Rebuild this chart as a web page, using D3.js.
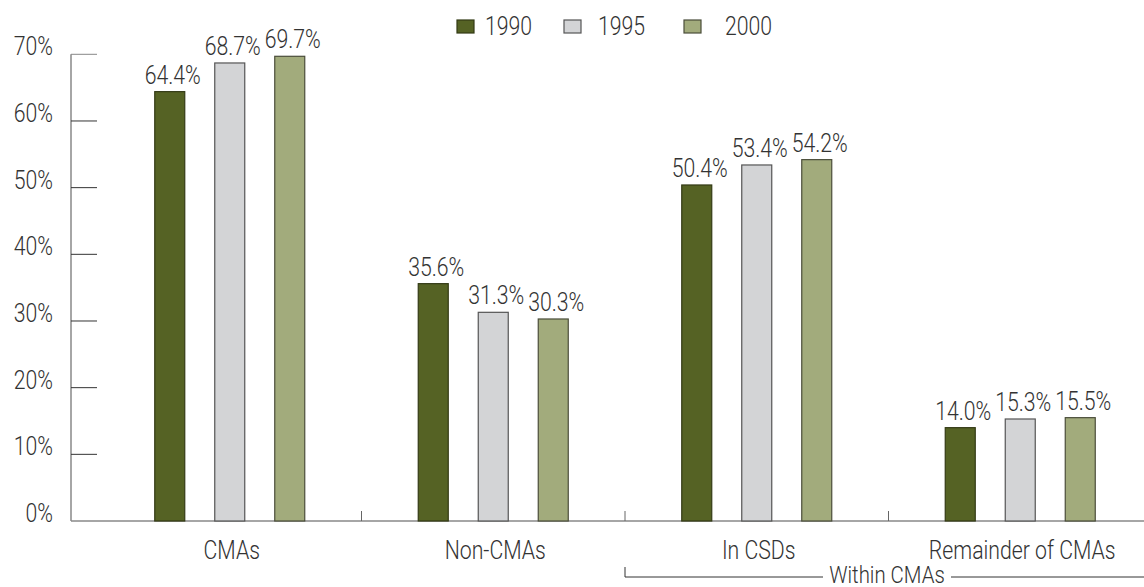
<!DOCTYPE html>
<html>
<head>
<meta charset="utf-8">
<script src="https://cdn.jsdelivr.net/npm/d3@7/dist/d3.min.js"></script>
<style>
  body { margin: 0; background: #fff; }
  svg text { font-family: Roboto, "Liberation Sans", sans-serif; font-weight: 300; fill: #333; font-size: 25px; }
</style>
</head>
<body>
<div id="container"></div>
<script>
const categories = ['CMAs', 'Non-CMAs', 'In CSDs', 'Remainder of CMAs'];
const years = ['1990', '1995', '2000'];
const values1990 = [64.4, 35.6, 50.4, 14.0];
const values1995 = [68.7, 31.3, 53.4, 15.3];
const values2000 = [69.7, 30.3, 54.2, 15.5];
const yTicks = [0, 10, 20, 30, 40, 50, 60, 70];

const seriesValues = [values1990, values1995, values2000];
const fills = ['#556224', '#d3d4d6', '#a2ab7c'];
const strokes = ['#333a15', '#555', '#4a4d3a'];

const width = 1144, height = 587;
const sx = 0.85; // narrow the font to look condensed

const svg = d3.select('#container').append('svg')
  .attr('width', width)
  .attr('height', height);

// condensed text helper
function label(sel, fx, fy) {
  return sel.attr('transform', (d, i) => `translate(${fx(d, i)},${fy(d, i)}) scale(${sx},1)`);
}

// Scales
const x = d3.scaleBand().domain(categories).range([98, 1152]);
const xYear = d3.scaleOrdinal().domain(years).range([-60, 0, 60]);
const y = d3.scaleLinear().domain([0, 70]).range([521, 54.3]);
const barW = 30;

// Y axis
svg.append('line')
  .attr('x1', 71).attr('x2', 71)
  .attr('y1', y(70)).attr('y2', y(0))
  .attr('stroke', '#888').attr('stroke-width', 1.5);

svg.selectAll('.ytick').data(yTicks.filter(d => d > 0)).enter().append('line')
  .attr('x1', 71).attr('x2', 97)
  .attr('y1', d => y(d)).attr('y2', d => y(d))
  .attr('stroke', d => d === 70 ? '#888' : '#333').attr('stroke-width', 1);

label(svg.selectAll('.ylabel').data(yTicks).enter().append('text'),
  () => 53, d => y(d) + 1)
  .attr('text-anchor', 'end')
  .text(d => d + '%');

// X baseline + separators
svg.append('line')
  .attr('x1', 71).attr('x2', width)
  .attr('y1', y(0)).attr('y2', y(0))
  .attr('stroke', '#888').attr('stroke-width', 1.5);

svg.selectAll('.sep').data(categories.slice(1)).enter().append('line')
  .attr('x1', d => x(d)).attr('x2', d => x(d))
  .attr('y1', y(0) - 10).attr('y2', y(0))
  .attr('stroke', '#666').attr('stroke-width', 1);

// Bars
years.forEach((yr, i) => {
  const data = categories.map((c, j) => ({ cat: c, v: seriesValues[i][j] }));
  const cx = d => x(d.cat) + x.bandwidth() / 2 + xYear(yr);
  svg.selectAll('.bar' + yr).data(data).enter().append('rect')
    .attr('x', d => cx(d) - barW / 2)
    .attr('y', d => y(d.v))
    .attr('width', barW)
    .attr('height', d => y(0) - y(d.v))
    .attr('fill', fills[i])
    .attr('stroke', strokes[i])
    .attr('stroke-width', 1.2);
  label(svg.selectAll('.val' + yr).data(data).enter().append('text'),
    d => cx(d) + 3, d => y(d.v) - 8)
    .attr('text-anchor', 'middle')
    .text(d => d.v.toFixed(1) + '%');
});

// Category labels
label(svg.selectAll('.cat').data(categories).enter().append('text'),
  d => x(d) + x.bandwidth() / 2 + 2, () => 559)
  .attr('text-anchor', 'middle')
  .text(d => d);

// Within CMAs bracket
const bx0 = x('In CSDs');
svg.append('path')
  .attr('d', `M${bx0},567V577H823M951,577H${width}`)
  .attr('fill', 'none').attr('stroke', '#333').attr('stroke-width', 1);
label(svg.append('text'), () => 887, () => 583)
  .attr('text-anchor', 'middle')
  .style('font-size', '24px')
  .text('Within CMAs');

// Legend
const legendX = [457, 564, 684];
const textX = [485, 598, 725];
years.forEach((yr, i) => {
  svg.append('rect')
    .attr('x', legendX[i]).attr('y', 20)
    .attr('width', 17).attr('height', 13)
    .attr('fill', fills[i])
    .attr('stroke', strokes[i]).attr('stroke-width', 1.2);
  label(svg.append('text'), () => textX[i], () => 35)
    .text(yr);
});
</script>
</body>
</html>
